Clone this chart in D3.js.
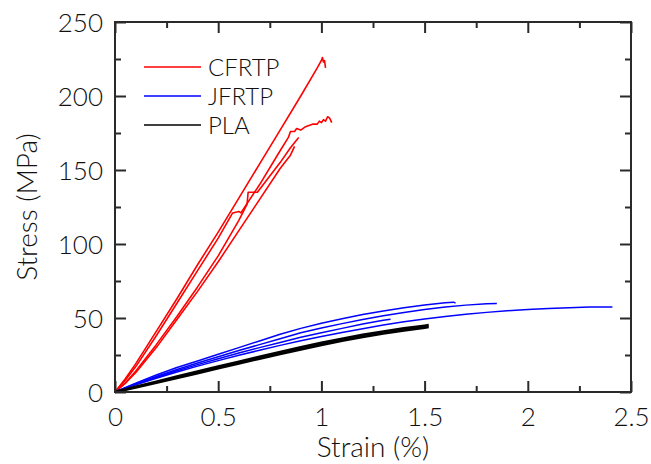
<!DOCTYPE html>
<html>
<head>
<meta charset="utf-8">
<script src="https://cdn.jsdelivr.net/npm/d3@7/dist/d3.min.js"></script>
<style>
  html, body { margin: 0; padding: 0; background: #fff; }
  svg { display: block; font-family: Lato, "Open Sans", sans-serif; font-weight: 300; }
</style>
</head>
<body>
<svg id="chart" width="651" height="464"></svg>
<script>
// Stress-strain curves, [strain %, stress MPa]
const cfrtp = [
  [[0,0],[0.05,9],[0.1,19],[0.2,41],[0.3,63],[0.4,86],[0.5,108],[0.6,131],[0.7,154],[0.8,177],[0.9,200],[0.98,219],[1.0,224],[1.005,226],[1.01,223],[1.015,224],[1.02,219]],
  [[0,0],[0.05,8],[0.1,17],[0.2,38],[0.3,60],[0.4,82],[0.5,104],[0.57,121],[0.6,122],[0.61,121],[0.7,140],[0.8,163],[0.84,172],[0.85,176],[0.87,176],[0.88,178],[0.9,177],[0.92,179],[0.94,180],[0.96,181],[0.98,181],[0.99,183],[1.0,182],[1.01,184],[1.02,183],[1.03,186],[1.04,185],[1.05,182]],
  [[0,0],[0.05,6],[0.1,14],[0.2,32],[0.3,51],[0.4,71],[0.5,92],[0.6,116],[0.64,127],[0.645,135],[0.69,135],[0.8,155],[0.85,165],[0.89,172]],
  [[0,0],[0.05,6],[0.1,13],[0.2,30],[0.3,49],[0.4,68],[0.5,88],[0.6,109],[0.7,130],[0.8,151],[0.85,160],[0.87,166]]
];
const jfrtp = [
  [[0,0],[0.1,6],[0.2,11.5],[0.3,16.5],[0.4,21],[0.5,25.5],[0.6,30],[0.7,34.5],[0.8,39],[0.9,43],[1.0,46.5],[1.1,49.5],[1.2,52.3],[1.3,54.8],[1.4,57],[1.5,58.8],[1.6,60.3],[1.64,60.7],[1.65,60]],
  [[0,0],[0.1,5.5],[0.2,10.5],[0.3,15.2],[0.4,19.6],[0.5,23.8],[0.6,28],[0.7,32],[0.8,36],[0.9,40],[1.0,43.2],[1.1,46.2],[1.2,49],[1.3,51.5],[1.4,53.7],[1.5,55.7],[1.6,57.4],[1.7,58.7],[1.8,59.6],[1.85,59.8]],
  [[0,0],[0.1,5],[0.2,9.8],[0.3,14.3],[0.4,18.5],[0.5,22.5],[0.6,26.3],[0.7,30],[0.8,33.5],[0.9,37],[1.0,40],[1.1,43],[1.2,46],[1.3,48.5],[1.335,49.2]],
  [[0,0],[0.1,4.8],[0.2,9.3],[0.3,13.5],[0.4,17.5],[0.5,21.2],[0.6,24.8],[0.7,28.2],[0.8,31.5],[0.9,34.6],[1.0,37.5],[1.1,40.2],[1.2,42.8],[1.3,45.2],[1.4,47.4],[1.5,49.3],[1.6,51],[1.7,52.5],[1.8,53.8],[1.9,54.9],[2.0,55.8],[2.1,56.5],[2.2,57],[2.3,57.4],[2.41,57.5]]
];
const pla = [
  [[0,0],[0.1,3.6],[0.2,7],[0.3,10.4],[0.4,13.8],[0.5,17.2],[0.6,20.5],[0.7,23.8],[0.8,27],[0.9,30.2],[1.0,33.2],[1.1,36],[1.2,38.6],[1.3,40.9],[1.4,43],[1.5,44.8],[1.52,45.2]],
  [[0,0],[0.1,3.1],[0.2,6.3],[0.3,9.5],[0.4,12.7],[0.5,16],[0.6,19.2],[0.7,22.5],[0.8,25.7],[0.9,28.8],[1.0,31.8],[1.1,34.6],[1.2,37.2],[1.3,39.5],[1.4,41.6],[1.5,43.5],[1.52,43.9]]
];
const seriesNames = ["CFRTP", "JFRTP", "PLA"];
const seriesColors = ["#ff0000", "#0000ff", "#000000"];
const xTicks = [0, 0.5, 1, 1.5, 2, 2.5];
const xMinor = [0.25, 0.75, 1.25, 1.75, 2.25];
const yTicks = [0, 50, 100, 150, 200, 250];
const yMinor = [25, 75, 125, 175, 225];

const svg = d3.select("#chart");
const L = 115, R = 631, T = 22, B = 392;
const x = d3.scaleLinear().domain([0, 2.5]).range([L, R]);
const y = d3.scaleLinear().domain([0, 250]).range([B, T]);
const axisColor = "#2a2a2a";
const textColor = "#111";

const line = d3.line().x(d => x(d[0])).y(d => y(d[1]));

// curves
const groups = [cfrtp, jfrtp, pla];
const widths = [1.6, 1.5, 2.6];
groups.forEach((g, i) => {
  svg.append("g").selectAll("path").data(g).join("path")
    .attr("d", line)
    .attr("fill", "none")
    .attr("stroke", seriesColors[i])
    .attr("stroke-width", widths[i])
    .attr("stroke-linejoin", "round");
});

// axes: ticks pointing inward on all four sides
function styleAxis(g) {
  g.attr("font-family", null).attr("font-size", null);
  g.select(".domain").remove();
  g.selectAll(".tick line").attr("stroke", axisColor).attr("stroke-width", 2);
}
const major = 11, minor = 6;
svg.append("g").attr("transform", `translate(0,${B})`)
  .call(d3.axisBottom(x).tickValues(xTicks).tickSize(-major).tickFormat(d3.format("")))
  .call(styleAxis)
  .call(g => g.selectAll("text").attr("y", 0).attr("dy", 0)
    .attr("transform", "translate(0,34)")
    .attr("font-size", 26).attr("fill", textColor));
svg.append("g").attr("transform", `translate(0,${B})`)
  .call(d3.axisBottom(x).tickValues(xMinor).tickSize(-minor).tickFormat(""))
  .call(styleAxis);
svg.append("g").attr("transform", `translate(0,${T})`)
  .call(d3.axisTop(x).tickValues(xTicks).tickSize(-major).tickFormat(""))
  .call(styleAxis);
svg.append("g").attr("transform", `translate(0,${T})`)
  .call(d3.axisTop(x).tickValues(xMinor).tickSize(-minor).tickFormat(""))
  .call(styleAxis);

svg.append("g").attr("transform", `translate(${L},0)`)
  .call(d3.axisLeft(y).tickValues(yTicks).tickSize(-major).tickFormat(d3.format("")))
  .call(styleAxis)
  .call(g => g.selectAll("text").attr("x", -12).attr("dy", "0.36em")
    .attr("font-size", 26).attr("fill", textColor));
svg.append("g").attr("transform", `translate(${L},0)`)
  .call(d3.axisLeft(y).tickValues(yMinor).tickSize(-minor).tickFormat(""))
  .call(styleAxis);
svg.append("g").attr("transform", `translate(${R},0)`)
  .call(d3.axisRight(y).tickValues(yTicks).tickSize(-major).tickFormat(""))
  .call(styleAxis);
svg.append("g").attr("transform", `translate(${R},0)`)
  .call(d3.axisRight(y).tickValues(yMinor).tickSize(-minor).tickFormat(""))
  .call(styleAxis);

// frame
svg.append("rect").attr("x", L).attr("y", T).attr("width", R - L).attr("height", B - T)
  .attr("fill", "none").attr("stroke", axisColor).attr("stroke-width", 2);

// axis titles
svg.append("text").attr("x", (L + R) / 2).attr("y", 457).attr("text-anchor", "middle")
  .attr("font-size", 28).attr("fill", textColor).text("Strain (%)");
svg.append("text").attr("transform", `translate(37,${(T + B) / 2}) rotate(-90)`)
  .attr("text-anchor", "middle").attr("font-size", 28).attr("fill", textColor).text("Stress (MPa)");

// legend
const leg = svg.append("g");
seriesNames.forEach((name, i) => {
  const yy = 67 + i * 29;
  leg.append("line").attr("x1", 144).attr("x2", 201).attr("y1", yy).attr("y2", yy)
    .attr("stroke", seriesColors[i]).attr("stroke-width", 1.6);
  leg.append("text").attr("x", 208).attr("y", yy).attr("dy", "0.36em")
    .attr("font-size", 24).attr("fill", textColor).text(name);
});
</script>
</body>
</html>
